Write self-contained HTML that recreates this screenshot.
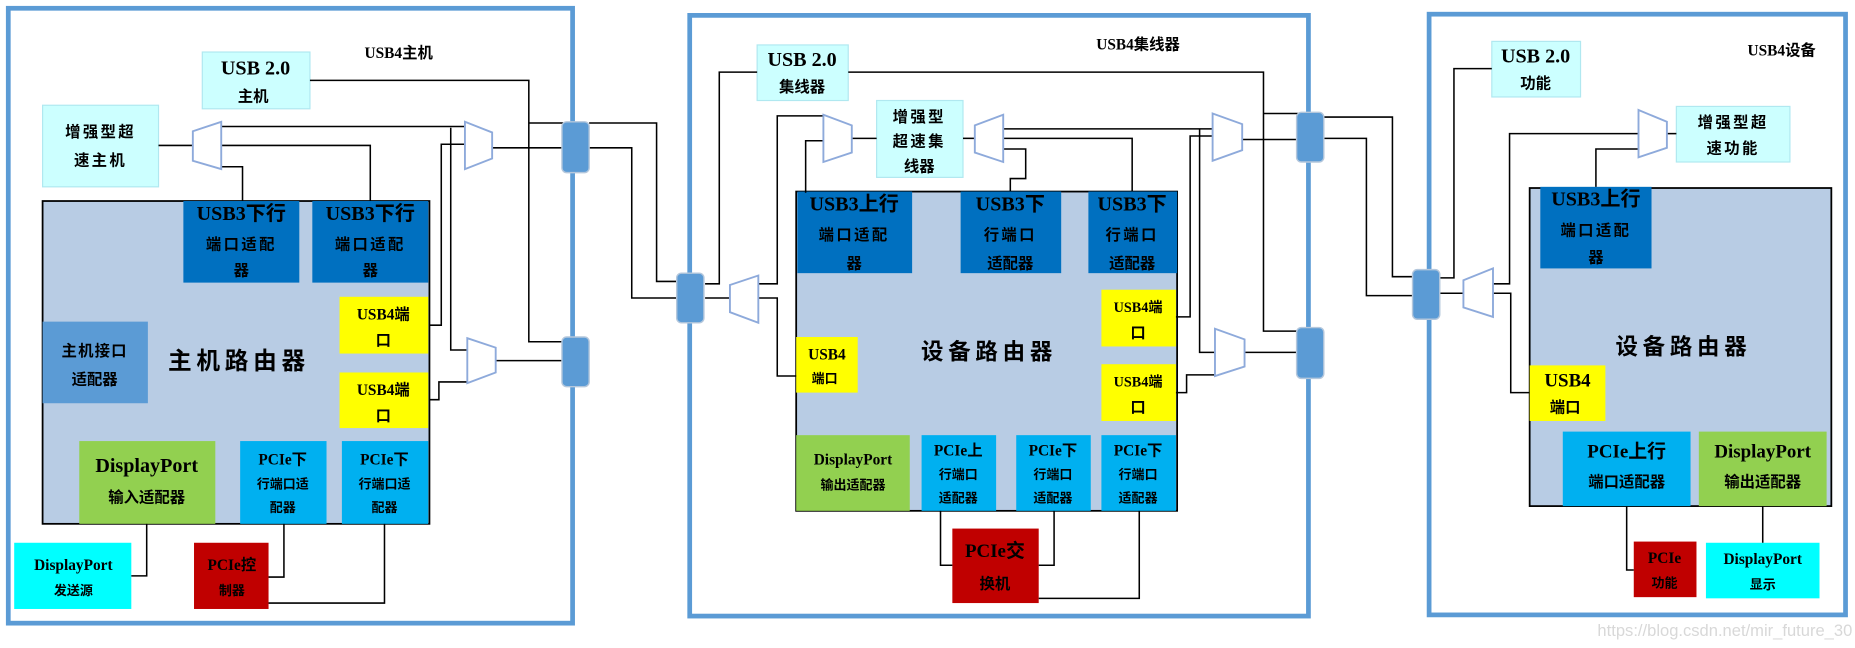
<!DOCTYPE html>
<html><head><meta charset="utf-8"><style>
html,body{margin:0;padding:0;background:#fff;}
svg{display:block;}
text{font-family:"Liberation Serif","Noto Sans CJK SC",serif;font-weight:bold;fill:#000;text-anchor:middle;}
.c{font-size:13px;}
.l{font-size:17px;}
.t{font-size:13px;}
.r{font-size:20px;letter-spacing:4px;}
</style></head><body>
<svg width="1855" height="648" viewBox="0 0 1568 548" preserveAspectRatio="none" xmlns="http://www.w3.org/2000/svg">
<g fill="none" stroke="#5b9bd5" stroke-width="4">
<rect x="7" y="7" width="477" height="520"/>
<rect x="583" y="13" width="523" height="508"/>
<rect x="1208" y="12" width="352" height="508"/>
</g>
<text x="337" y="49" class="t">USB4主机</text>
<text x="962" y="42" class="t">USB4集线器</text>
<text x="1506" y="47" class="t">USB4设备</text>

<!-- ===== HOST ===== -->
<rect x="171" y="44" width="91" height="48" fill="#ccffff" stroke="#b0e8f0"/>
<text x="216" y="63" class="l">USB 2.0</text><text x="214" y="86" class="c">主机</text>
<rect x="36" y="89" width="98" height="69" fill="#ccffff" stroke="#b0e8f0"/>
<text x="85" y="116" class="c" style="letter-spacing:2px">增强型超</text><text x="85" y="140" class="c" style="letter-spacing:2px">速主机</text>
<rect x="36" y="170" width="327" height="273" fill="#b8cce4" stroke="#000" stroke-width="1.5"/>
<rect x="155" y="170" width="98" height="69" fill="#0070c0"/>
<text x="204" y="186" class="l">USB3下行</text><text x="204" y="211" class="c" style="letter-spacing:2px">端口适配</text><text x="204" y="233" class="c">器</text>
<rect x="264" y="170" width="98" height="69" fill="#0070c0"/>
<text x="313" y="186" class="l">USB3下行</text><text x="313" y="211" class="c" style="letter-spacing:2px">端口适配</text><text x="313" y="233" class="c">器</text>
<rect x="36" y="272" width="89" height="69" fill="#5b9bd5"/>
<text x="80" y="301" class="c" style="letter-spacing:1px">主机接口</text><text x="80" y="325" class="c">适配器</text>
<text x="202" y="312" class="r">主机路由器</text>
<rect x="287" y="251" width="75" height="48" fill="#ffff00"/>
<text x="324" y="270" class="c">USB4端</text><text x="324" y="292" class="c">口</text>
<rect x="287" y="315" width="75" height="47" fill="#ffff00"/>
<text x="324" y="334" class="c">USB4端</text><text x="324" y="356" class="c">口</text>
<rect x="67" y="373" width="115" height="70" fill="#92d050"/>
<text x="124" y="399" style="font-size:17px">DisplayPort</text><text x="124" y="425" class="c">输入适配器</text>
<rect x="203" y="373" width="73" height="70" fill="#00b0f0"/>
<text x="239" y="393" class="c">PCIe下</text><text x="239" y="413" style="font-size:11px">行端口适</text><text x="239" y="433" style="font-size:11px">配器</text>
<rect x="289" y="373" width="73" height="70" fill="#00b0f0"/>
<text x="325" y="393" class="c">PCIe下</text><text x="325" y="413" style="font-size:11px">行端口适</text><text x="325" y="433" style="font-size:11px">配器</text>
<rect x="12" y="459" width="99" height="56" fill="#00ffff"/>
<text x="62" y="482" class="c">DisplayPort</text><text x="62" y="503" style="font-size:11px">发送源</text>
<rect x="164" y="459" width="63" height="56" fill="#c00000"/>
<text x="196" y="482" class="c">PCIe控</text><text x="196" y="503" style="font-size:11px">制器</text>

<!-- ===== HUB ===== -->
<rect x="640" y="38" width="77" height="47" fill="#ccffff" stroke="#b0e8f0"/>
<text x="678" y="56" class="l">USB 2.0</text><text x="678" y="78" class="c">集线器</text>
<rect x="741" y="85" width="73" height="65" fill="#ccffff" stroke="#b0e8f0"/>
<text x="777" y="103" class="c" style="letter-spacing:2px">增强型</text><text x="777" y="124" class="c" style="letter-spacing:2px">超速集</text><text x="777" y="145" class="c">线器</text>
<rect x="673" y="162" width="322" height="270" fill="#b8cce4" stroke="#000" stroke-width="1.5"/>
<rect x="674" y="162" width="97" height="69" fill="#0070c0"/>
<text x="722" y="178" class="l">USB3上行</text><text x="722" y="203" class="c" style="letter-spacing:2px">端口适配</text><text x="722" y="227" class="c">器</text>
<rect x="812" y="162" width="85" height="69" fill="#0070c0"/>
<text x="854" y="178" class="l">USB3下</text><text x="854" y="203" class="c" style="letter-spacing:2px">行端口</text><text x="854" y="227" class="c">适配器</text>
<rect x="920" y="162" width="75" height="69" fill="#0070c0"/>
<text x="957" y="178" class="l">USB3下</text><text x="957" y="203" class="c" style="letter-spacing:2px">行端口</text><text x="957" y="227" class="c">适配器</text>
<rect x="931" y="245" width="63" height="48" fill="#ffff00"/>
<text x="962" y="264" style="font-size:12px">USB4端</text><text x="962" y="286" class="c">口</text>
<rect x="931" y="308" width="63" height="48" fill="#ffff00"/>
<text x="962" y="327" style="font-size:12px">USB4端</text><text x="962" y="349" class="c">口</text>
<rect x="673" y="285" width="52" height="47" fill="#ffff00"/>
<text x="699" y="304" class="c">USB4</text><text x="697" y="324" style="font-size:11px">端口</text>
<text x="836" y="304" class="r" style="font-size:19px">设备路由器</text>
<rect x="673" y="368" width="96" height="64" fill="#92d050"/>
<text x="721" y="393" class="c">DisplayPort</text><text x="721" y="414" style="font-size:11px">输出适配器</text>
<rect x="779" y="368" width="63" height="64" fill="#00b0f0"/>
<text x="810" y="385" class="c">PCIe上</text><text x="810" y="405" style="font-size:11px">行端口</text><text x="810" y="425" style="font-size:11px">适配器</text>
<rect x="859" y="368" width="63" height="64" fill="#00b0f0"/>
<text x="890" y="385" class="c">PCIe下</text><text x="890" y="405" style="font-size:11px">行端口</text><text x="890" y="425" style="font-size:11px">适配器</text>
<rect x="931" y="368" width="63" height="64" fill="#00b0f0"/>
<text x="962" y="385" class="c">PCIe下</text><text x="962" y="405" style="font-size:11px">行端口</text><text x="962" y="425" style="font-size:11px">适配器</text>
<rect x="805" y="447" width="73" height="63" fill="#c00000"/>
<text x="841" y="471" style="font-size:16px">PCIe交</text><text x="841" y="498" class="c">换机</text>

<!-- ===== DEVICE ===== -->
<rect x="1261" y="35" width="75" height="47" fill="#ccffff" stroke="#b0e8f0"/>
<text x="1298" y="53" class="l">USB 2.0</text><text x="1298" y="75" class="c">功能</text>
<rect x="1417" y="90" width="96" height="47" fill="#ccffff" stroke="#b0e8f0"/>
<text x="1465" y="108" class="c" style="letter-spacing:2px">增强型超</text><text x="1465" y="130" class="c" style="letter-spacing:2px">速功能</text>
<rect x="1293" y="159" width="255" height="269" fill="#b8cce4" stroke="#000" stroke-width="1.5"/>
<rect x="1302" y="158" width="94" height="69" fill="#0070c0"/>
<text x="1349" y="174" class="l">USB3上行</text><text x="1349" y="199" class="c" style="letter-spacing:2px">端口适配</text><text x="1349" y="222" class="c">器</text>
<text x="1423" y="300" class="r" style="font-size:19px">设备路由器</text>
<rect x="1293" y="309" width="64" height="47" fill="#ffff00"/>
<text x="1325" y="327" style="font-size:16px">USB4</text><text x="1323" y="349" class="c">端口</text>
<rect x="1321" y="365" width="108" height="63" fill="#00b0f0"/>
<text x="1375" y="387" style="font-size:16px">PCIe上行</text><text x="1375" y="412" class="c">端口适配器</text>
<rect x="1436" y="365" width="108" height="63" fill="#92d050"/>
<text x="1490" y="387" style="font-size:16px">DisplayPort</text><text x="1490" y="412" class="c">输出适配器</text>
<rect x="1381" y="458" width="53" height="47" fill="#c00000"/>
<text x="1407" y="476" class="c">PCIe</text><text x="1407" y="497" style="font-size:11px">功能</text>
<rect x="1442" y="459" width="96" height="47" fill="#00ffff"/>
<text x="1490" y="477" class="c">DisplayPort</text><text x="1490" y="498" style="font-size:11px">显示</text>

<!-- ===== wires ===== -->
<g fill="none" stroke="#000" stroke-width="1.3">
<path d="M262 68H447V289H476M447 104H476"/>
<path d="M134 123H163"/>
<path d="M187 107H393M187 123H313V170M187 141H205V170"/>
<path d="M416 125H476"/>
<path d="M363 275H373V122H393"/>
<path d="M381 108V296H395"/>
<path d="M363 338H371V323H395"/>
<path d="M419 305H476"/>
<path d="M124 443V487H111"/>
<path d="M240 443V488H227"/>
<path d="M325 443V510H227"/>
<path d="M498 104H555V238H573"/>
<path d="M498 125H534V252H573"/>
<path d="M596 240H608V61H640"/>
<path d="M717 61H1068V280H1097M1068 96H1097"/>
<path d="M596 252H617"/>
<path d="M641 240H657V98H696"/>
<path d="M641 252H657V318H673"/>
<path d="M681 163V119H696"/>
<path d="M720 117H741"/>
<path d="M814 117H824"/>
<path d="M848 109H1025"/>
<path d="M848 117H957V162"/>
<path d="M848 126H867V151H854V162"/>
<path d="M1050 118H1097"/>
<path d="M1014 109V298H1027"/>
<path d="M994 268H1006V115H1025"/>
<path d="M994 332H1003V317H1027"/>
<path d="M1052 298H1097"/>
<path d="M795 432V478H805"/>
<path d="M891 432V478H878"/>
<path d="M963 432V506H878"/>
<path d="M1118 99H1177V234H1195"/>
<path d="M1118 117H1155V250H1195"/>
<path d="M1217 235H1229V58H1261"/>
<path d="M1217 248H1237"/>
<path d="M1262 240H1276V113H1385"/>
<path d="M1262 248H1277V332H1293"/>
<path d="M1409 113H1417"/>
<path d="M1385 126H1349V158"/>
<path d="M1375 428V482H1381"/>
<path d="M1490 428V459"/>
</g>

<g fill="#fff" stroke="#8eaadb" stroke-width="1.6">
<polygon points="163,111 187,103 187,143 163,136"/>
<polygon points="393,103 416,112 416,134 393,143"/>
<polygon points="395,286 419,294 419,315 395,324"/>
<polygon points="617,241 641,233 641,273 617,264"/>
<polygon points="696,97 720,106 720,129 696,137"/>
<polygon points="824,106 848,97 848,137 824,129"/>
<polygon points="1025,96 1050,105 1050,127 1025,136"/>
<polygon points="1027,278 1052,287 1052,310 1027,318"/>
<polygon points="1237,237 1262,227 1262,268 1237,260"/>
<polygon points="1385,93 1409,103 1409,125 1385,133"/>
</g>
<g fill="#5b9bd5" stroke="#b4c7dc" stroke-width="1.2">
<rect x="475" y="103" width="23" height="43" rx="4"/>
<rect x="475" y="285" width="23" height="42" rx="4"/>
<rect x="572" y="231" width="23" height="42" rx="4"/>
<rect x="1096" y="95" width="23" height="42" rx="4"/>
<rect x="1096" y="277" width="23" height="43" rx="4"/>
<rect x="1194" y="228" width="23" height="42" rx="4"/>
</g>
<text x="1458" y="538" style="font-family:'Liberation Sans',sans-serif;font-weight:normal;font-size:14px;fill:#d8d8d8">https://blog.csdn.net/mir_future_30</text>
</svg>
</body></html>
